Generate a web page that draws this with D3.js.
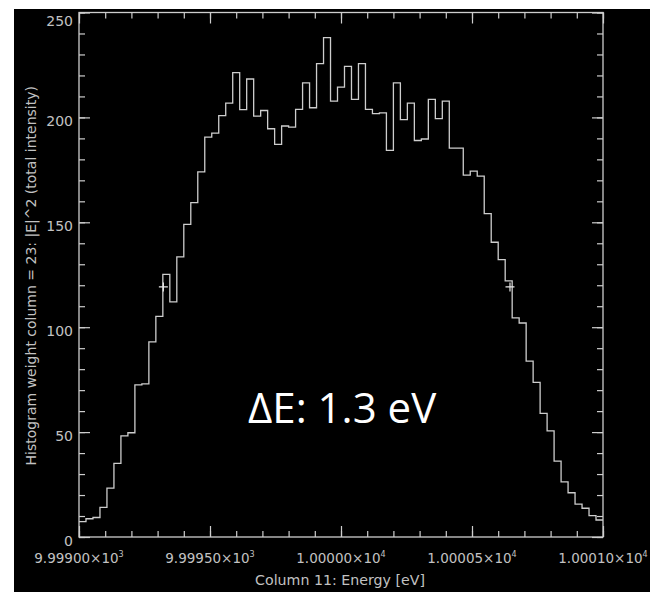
<html>
    <head>
        <script src="https://cdn.jsdelivr.net/npm/d3@7"></script>
        <style>
            body {
                margin: 0;
                background: #fff;
            }
            svg {
                display: block;
            }
        </style>
    </head>
    <body>
        <svg id="chart"></svg>
    </body>
    <script>
        const WIDTH = 650
        const HEIGHT = 592
        // plot frame in pixels (IDL style box)
        const PLOT = {left: 79, right: 603, top: 12.5, bottom: 537}
        const LINE_COLOR = "#cdcdcd"
        const TEXT_COLOR = "#c2c2c2"

        // histogram: 75 equal bins from 9999.0 eV to 10001.0 eV
        const ENERGY_MIN = 9999.0
        const ENERGY_MAX = 10001.0
        const counts = [
            7.3, 8.7, 9.3, 14.1, 23.3, 35.1, 48.2, 49.7, 72.5, 73.0,
            93.0, 105.2, 125.2, 112.1, 133.5, 149.0, 159.4, 174.0, 190.6, 192.5,
            200.8, 206.8, 221.3, 203.7, 218.3, 200.6, 203.3, 194.6, 187.1, 195.9,
            195.4, 203.8, 216.5, 204.6, 225.6, 238.0, 207.8, 214.4, 224.3, 208.6,
            225.6, 203.8, 201.8, 202.2, 184.3, 216.5, 198.9, 206.8, 189.0, 189.7,
            208.6, 199.4, 207.8, 185.4, 185.4, 172.5, 174.4, 172.0, 154.1, 140.5,
            132.2, 122.1, 104.4, 102.0, 83.8, 73.7, 58.9, 50.6, 36.2, 26.3,
            21.1, 15.7, 13.7, 10.2, 8.1
        ]

        // half-maximum markers (the two "+" signs)
        const fwhmEnergy = [9999.322, 10000.645]
        const fwhmLevel = [119.2, 119.2]

        const xTickValues = [9999.0, 9999.5, 10000.0, 10000.5, 10001.0]
        const xTickMantissa = ["9.99900", "9.99950", "1.00000", "1.00005", "1.00010"]
        const xTickExponent = ["3", "3", "4", "4", "4"]
        const yTickValues = [0, 50, 100, 150, 200, 250]

        const X_TITLE = "Column 11: Energy [eV]"
        const Y_TITLE = "Histogram weight column = 23: |E|^2 (total intensity)"
        const NOTE = "ΔE: 1.3 eV"

        const svg = d3.select("#chart")
            .attr("width", WIDTH)
            .attr("height", HEIGHT)

        // black screenshot area
        svg.append("rect")
            .attr("x", 14)
            .attr("y", 9)
            .attr("width", WIDTH - 14)
            .attr("height", HEIGHT - 9)
            .attr("fill", "#000")

        const x = d3.scaleLinear()
            .domain([ENERGY_MIN, ENERGY_MAX])
            .range([PLOT.left, PLOT.right])

        const y = d3.scaleLinear()
            .domain([0, 250])
            .range([PLOT.bottom, PLOT.top])

        // draw ticks pointing inward, no labels
        function drawTicks(axis, transform, values, size) {
            svg.append("g")
                .attr("transform", transform)
                .call(axis.tickValues(values).tickSize(size).tickSizeOuter(0).tickFormat(""))
                .call(g => g.select(".domain").remove())
                .selectAll("line")
                    .attr("stroke", LINE_COLOR)
                    .attr("stroke-width", 1.2)
        }

        drawTicks(d3.axisBottom(x), `translate(0,${PLOT.bottom})`, x.ticks(20), -6)
        drawTicks(d3.axisBottom(x), `translate(0,${PLOT.bottom})`, xTickValues, -11)
        drawTicks(d3.axisTop(x), `translate(0,${PLOT.top})`, x.ticks(20), -6)
        drawTicks(d3.axisTop(x), `translate(0,${PLOT.top})`, xTickValues, -11)
        drawTicks(d3.axisLeft(y), `translate(${PLOT.left},0)`, y.ticks(25), -6)
        drawTicks(d3.axisLeft(y), `translate(${PLOT.left},0)`, yTickValues, -11)
        drawTicks(d3.axisRight(y), `translate(${PLOT.right},0)`, y.ticks(25), -6)
        drawTicks(d3.axisRight(y), `translate(${PLOT.right},0)`, yTickValues, -11)

        // frame
        svg.append("rect")
            .attr("x", PLOT.left)
            .attr("y", PLOT.top)
            .attr("width", PLOT.right - PLOT.left)
            .attr("height", PLOT.bottom - PLOT.top)
            .attr("fill", "none")
            .attr("stroke", LINE_COLOR)
            .attr("stroke-width", 1.3)

        // histogram as a step line
        const binWidth = (ENERGY_MAX - ENERGY_MIN) / counts.length
        const steps = counts.map((c, i) => ({e: ENERGY_MIN + i * binWidth, c: c}))
        steps.push({e: ENERGY_MAX, c: counts[counts.length - 1]})

        const line = d3.line()
            .x(d => x(d.e))
            .y(d => y(d.c))
            .curve(d3.curveStepAfter)

        svg.append("path")
            .datum(steps)
            .attr("fill", "none")
            .attr("stroke", LINE_COLOR)
            .attr("stroke-width", 1.3)
            .attr("d", line)

        // "+" markers
        fwhmEnergy.forEach((e, i) => {
            const cx = x(e), cy = y(fwhmLevel[i])
            svg.append("path")
                .attr("d", `M${cx - 4.5},${cy}H${cx + 4.5}M${cx},${cy - 4.5}V${cy + 4.5}`)
                .attr("stroke", "#e8e8e8")
                .attr("stroke-width", 1.2)
        })

        // y tick labels
        svg.append("g")
            .selectAll("text")
            .data(yTickValues)
            .join("text")
                .attr("x", PLOT.left - 6)
                .attr("y", d => Math.max(y(d) + 8.5, 26))
                .attr("text-anchor", "end")
                .attr("font-family", "DejaVu Sans")
                .attr("font-size", 14)
                .attr("fill", TEXT_COLOR)
                .text(d => d)

        // x tick labels with superscript exponent
        const xLabels = svg.append("g")
            .selectAll("text")
            .data(xTickValues)
            .join("text")
                .attr("x", d => x(d))
                .attr("y", 563)
                .attr("text-anchor", "middle")
                .attr("font-family", "DejaVu Sans")
                .attr("font-size", 13.5)
                .attr("fill", TEXT_COLOR)
        xLabels.append("tspan")
            .text((d, i) => xTickMantissa[i] + "×10")
        xLabels.append("tspan")
            .attr("dy", -6)
            .attr("font-size", 8)
            .text((d, i) => xTickExponent[i])

        // axis titles
        svg.append("text")
            .attr("x", (PLOT.left + PLOT.right) / 2 - 1)
            .attr("y", 585)
            .attr("text-anchor", "middle")
            .attr("font-family", "DejaVu Sans")
            .attr("font-size", 14.2)
            .attr("fill", TEXT_COLOR)
            .text(X_TITLE)

        svg.append("text")
            .attr("transform", `translate(36, ${(PLOT.top + PLOT.bottom) / 2 + 1}) rotate(-90)`)
            .attr("text-anchor", "middle")
            .attr("font-family", "DejaVu Sans")
            .attr("font-size", 14)
            .attr("fill", TEXT_COLOR)
            .text(Y_TITLE)

        // annotation
        svg.append("text")
            .attr("x", 248)
            .attr("y", 423)
            .attr("font-family", "Open Sans")
            .attr("font-size", 42)
            .attr("fill", "#fff")
            .text(NOTE)
    </script>
</html>
